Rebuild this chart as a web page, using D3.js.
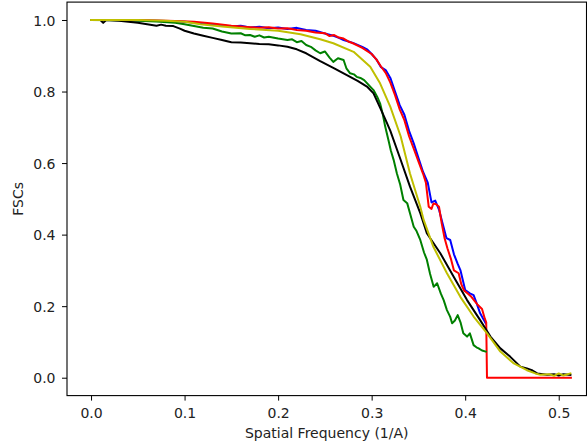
<!DOCTYPE html>
<html>
<head>
<meta charset="utf-8">
<script src="https://d3js.org/d3.v7.min.js"></script>
<style>
  body { margin: 0; background: #fff; }
  svg { display: block; font-family: "DejaVu Sans", sans-serif; }
</style>
</head>
<body>
<div id="svg-container"></div>
<script>
const width = 587;
const height = 446;

// ********* DATA *********
// [spatial frequency, FSC]
var fscBlue = [
  [0, 1.0], [0.02, 1.0], [0.05, 0.999], [0.08, 0.997], [0.10, 0.995], [0.12, 0.99],
  [0.14, 0.985], [0.15, 0.982], [0.16, 0.984], [0.17, 0.979], [0.18, 0.981], [0.19, 0.977],
  [0.20, 0.979], [0.21, 0.975], [0.22, 0.978], [0.23, 0.972], [0.24, 0.97], [0.25, 0.962],
  [0.26, 0.955], [0.265, 0.95], [0.27, 0.944], [0.28, 0.936], [0.29, 0.925], [0.295, 0.918],
  [0.30, 0.905], [0.305, 0.89], [0.31, 0.868], [0.315, 0.86], [0.32, 0.838], [0.325, 0.80],
  [0.33, 0.762], [0.335, 0.735], [0.34, 0.69], [0.345, 0.655], [0.35, 0.615], [0.355, 0.575],
  [0.36, 0.545], [0.364, 0.49], [0.368, 0.495], [0.372, 0.47], [0.376, 0.43], [0.38, 0.39],
  [0.384, 0.385], [0.388, 0.345], [0.392, 0.318], [0.395, 0.30], [0.40, 0.245], [0.405, 0.236],
  [0.409, 0.231], [0.412, 0.21], [0.416, 0.18], [0.42, 0.161], [0.422, 0.152]
];
var fscRed = [
  [0, 1.0], [0.03, 1.0], [0.06, 0.999], [0.09, 0.997], [0.11, 0.995], [0.13, 0.99],
  [0.15, 0.984], [0.16, 0.982], [0.17, 0.98], [0.18, 0.978], [0.19, 0.98], [0.20, 0.976],
  [0.21, 0.977], [0.22, 0.972], [0.23, 0.97], [0.24, 0.965], [0.25, 0.963], [0.255, 0.955],
  [0.26, 0.958], [0.265, 0.951], [0.27, 0.948], [0.275, 0.94], [0.28, 0.935], [0.29, 0.922],
  [0.30, 0.905], [0.305, 0.89], [0.31, 0.87], [0.315, 0.852], [0.32, 0.825], [0.325, 0.79],
  [0.33, 0.75], [0.335, 0.72], [0.34, 0.675], [0.345, 0.64], [0.35, 0.605], [0.355, 0.57],
  [0.358, 0.545], [0.361, 0.478], [0.364, 0.472], [0.366, 0.487], [0.369, 0.485], [0.372, 0.478],
  [0.375, 0.43], [0.378, 0.39], [0.381, 0.362], [0.385, 0.33], [0.388, 0.30], [0.393, 0.292],
  [0.396, 0.26], [0.399, 0.243], [0.403, 0.235], [0.406, 0.228], [0.41, 0.215], [0.413, 0.205],
  [0.418, 0.192], [0.421, 0.165], [0.4225, 0.155], [0.4233, 0.0], [0.45, 0.0], [0.513, 0.0]
];
var fscGreen = [
  [0, 1.0], [0.03, 0.999], [0.05, 0.998], [0.07, 0.996], [0.09, 0.992], [0.10, 0.988],
  [0.11, 0.983], [0.12, 0.978], [0.13, 0.976], [0.14, 0.968], [0.15, 0.962], [0.16, 0.963],
  [0.165, 0.957], [0.17, 0.958], [0.175, 0.953], [0.18, 0.957], [0.185, 0.951], [0.19, 0.953],
  [0.20, 0.948], [0.21, 0.944], [0.215, 0.946], [0.22, 0.938], [0.225, 0.941], [0.23, 0.93],
  [0.235, 0.925], [0.24, 0.915], [0.245, 0.907], [0.25, 0.912], [0.255, 0.895], [0.259, 0.883],
  [0.264, 0.893], [0.27, 0.888], [0.273, 0.865], [0.277, 0.851], [0.281, 0.848], [0.284, 0.841],
  [0.288, 0.838], [0.292, 0.832], [0.297, 0.818], [0.302, 0.804], [0.306, 0.785], [0.309, 0.767],
  [0.312, 0.735], [0.3145, 0.702], [0.318, 0.664], [0.3205, 0.635], [0.3235, 0.609], [0.327, 0.571],
  [0.3305, 0.54], [0.334, 0.497], [0.338, 0.488], [0.341, 0.46], [0.345, 0.422], [0.348, 0.41],
  [0.352, 0.385], [0.356, 0.35], [0.359, 0.33], [0.3625, 0.29], [0.3663, 0.254], [0.37, 0.264],
  [0.374, 0.235], [0.377, 0.217], [0.3805, 0.189], [0.384, 0.17], [0.386, 0.152], [0.389, 0.16],
  [0.392, 0.175], [0.395, 0.155], [0.398, 0.124], [0.402, 0.115], [0.405, 0.124], [0.409, 0.091],
  [0.412, 0.085], [0.4144, 0.082], [0.418, 0.076], [0.422, 0.073]
];
var fscBlack = [
  [0, 1.0], [0.01, 1.0], [0.013, 0.992], [0.016, 0.999], [0.02, 0.999], [0.03, 0.998],
  [0.04, 0.995], [0.05, 0.992], [0.06, 0.988], [0.07, 0.984], [0.075, 0.987], [0.08, 0.984],
  [0.088, 0.983], [0.095, 0.976], [0.10, 0.97], [0.11, 0.962], [0.12, 0.956], [0.13, 0.95],
  [0.14, 0.944], [0.15, 0.938], [0.16, 0.937], [0.17, 0.935], [0.18, 0.933], [0.19, 0.932],
  [0.20, 0.929], [0.21, 0.925], [0.22, 0.918], [0.23, 0.907], [0.245, 0.885], [0.26, 0.865],
  [0.2735, 0.846], [0.285, 0.83], [0.295, 0.814], [0.302, 0.795], [0.309, 0.755], [0.315, 0.72],
  [0.32, 0.69], [0.3306, 0.612], [0.341, 0.534], [0.352, 0.46], [0.359, 0.404], [0.3734, 0.348],
  [0.3877, 0.282], [0.402, 0.217], [0.416, 0.161], [0.427, 0.115], [0.4376, 0.082], [0.448, 0.059],
  [0.459, 0.031], [0.466, 0.026], [0.472, 0.02], [0.477, 0.012], [0.4875, 0.008], [0.495, 0.01],
  [0.50, 0.006], [0.505, 0.01], [0.5125, 0.008]
];
var fscYellow = [
  [0, 1.0], [0.05, 1.0], [0.08, 0.998], [0.10, 0.995], [0.117, 0.988], [0.14, 0.982],
  [0.17, 0.975], [0.20, 0.97], [0.224, 0.96], [0.245, 0.946], [0.259, 0.935], [0.2807, 0.911],
  [0.2985, 0.869], [0.309, 0.823], [0.32, 0.757], [0.331, 0.675], [0.341, 0.571], [0.352, 0.478],
  [0.3556, 0.441], [0.366, 0.366], [0.3805, 0.292], [0.3948, 0.226], [0.409, 0.171], [0.4234, 0.124],
  [0.4376, 0.073], [0.452, 0.04], [0.466, 0.021], [0.475, 0.012], [0.4805, 0.008], [0.49, 0.01],
  [0.495, 0.005], [0.50, 0.012], [0.505, 0.006], [0.5125, 0.012]
];

var xTicks = [0, 0.1, 0.2, 0.3, 0.4, 0.5];
var yTicks = [0, 0.2, 0.4, 0.6, 0.8, 1.0];

// draw order, bottom to top
var series = [
  {name: 'b', data: fscBlue, color: '#0000ff'},
  {name: 'r', data: fscRed, color: '#ff0000'},
  {name: 'g', data: fscGreen, color: '#008000'},
  {name: 'k', data: fscBlack, color: '#000000'},
  {name: 'y', data: fscYellow, color: '#bfbf00'}
];

// ********* Create SVG *********
var svg = d3.select("#svg-container").append('svg')
.attr('width', width)
.attr('height', height);

svg.append('rect')
.attr('width', width)
.attr('height', height)
.attr('fill', '#fff');

// ******** SCALES *********
var plot = {left: 67, right: 586.5, top: 2.1, bottom: 395.6};

var x_scale = d3.scaleLinear()
.domain([-0.0257, 0.5297])
.range([plot.left, plot.right]);

var y_scale = d3.scaleLinear()
.domain([-0.05, 1.05])
.range([plot.bottom, plot.top]);

// ******** LINES *********
var line = d3.line()
.x(function(d){ return x_scale(d[0]); })
.y(function(d){ return y_scale(d[1]); });

svg.append('defs').append('clipPath')
.attr('id', 'clip')
.append('rect')
.attr('x', plot.left)
.attr('y', plot.top)
.attr('width', plot.right - plot.left)
.attr('height', plot.bottom - plot.top);

svg.append('g')
.attr('clip-path', 'url(#clip)')
.selectAll('path')
.data(series)
.enter().append('path')
.attr('d', function(d){ return line(d.data); })
.attr('fill', 'none')
.attr('stroke', function(d){ return d.color; })
.attr('stroke-width', 2)
.attr('stroke-linejoin', 'round')
.attr('stroke-linecap', 'square');

// ******** AXES *********
var x_axis = d3.axisBottom(x_scale)
.tickValues(xTicks)
.tickFormat(d3.format('.1f'))
.tickSize(5)
.tickPadding(7.5)
.tickSizeOuter(0);

var y_axis = d3.axisLeft(y_scale)
.tickValues(yTicks)
.tickFormat(d3.format('.1f'))
.tickSize(5)
.tickPadding(6.5)
.tickSizeOuter(0);

var gx = svg.append('g')
.attr('transform', `translate(0, ${plot.bottom})`)
.call(x_axis);

var gy = svg.append('g')
.attr('transform', `translate(${plot.left}, 0)`)
.call(y_axis);

[gx, gy].forEach(function(g){
  g.select('.domain').remove();
  g.selectAll('.tick line').attr('stroke', '#000').attr('stroke-width', 1);
  g.selectAll('.tick text')
  .style('font-family', '"DejaVu Sans", sans-serif')
  .style('font-size', '14px')
  .attr('fill', '#222');
});
gy.selectAll('.tick text').attr('dy', '0.36em');

// ******** SPINES *********
svg.append('rect')
.attr('x', plot.left)
.attr('y', plot.top)
.attr('width', plot.right - plot.left)
.attr('height', plot.bottom - plot.top)
.attr('fill', 'none')
.attr('stroke', '#000')
.attr('stroke-width', 1.1);

// ******** LABELS *********
svg.append('text')
.attr('x', (plot.left + plot.right) / 2)
.attr('y', 437.5)
.attr('text-anchor', 'middle')
.style('font-size', '14px')
.attr('fill', '#222')
.text('Spatial Frequency (1/A)');

svg.append('text')
.attr('transform', `translate(23, ${(plot.top + plot.bottom) / 2}) rotate(-90)`)
.attr('text-anchor', 'middle')
.style('font-size', '14px')
.attr('fill', '#222')
.text('FSCs');
</script>
</body>
</html>
